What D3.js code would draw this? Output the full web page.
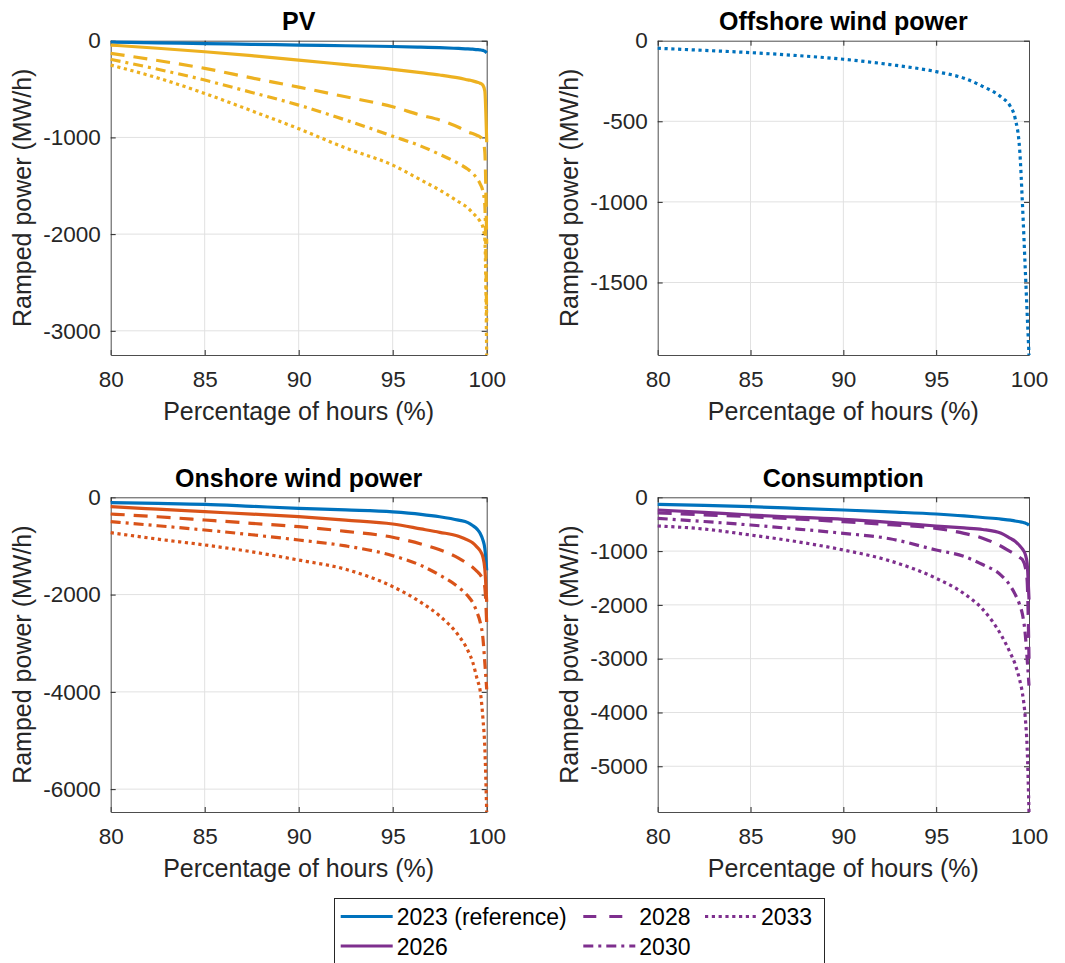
<!DOCTYPE html>
<html>
<head>
<meta charset="utf-8">
<script src="https://cdn.jsdelivr.net/npm/d3@7/dist/d3.min.js"></script>
<style>
body { margin: 0; background: #fff; }
svg text { font-family: "Liberation Sans", Arial, Helvetica, sans-serif; }
</style>
</head>
<body>
<div class="chart"></div>
<script>
// percentage of hours (x values shared by every curve)
var hours = [80, 82.5, 85, 87.5, 90, 92.5, 95, 96.5, 97.5, 98.5, 99, 99.25, 99.5, 99.65, 99.8, 99.9, 100];
var hourTicks = [80, 85, 90, 95, 100];

// PV
var pv2023 = [-15, -22, -30, -37, -45, -52, -60, -67, -72, -80, -84, -88, -92, -95, -100, -108, -125];
var pv2026 = [-45, -78, -114, -155, -200, -248, -296, -330, -355, -385, -405, -415, -430, -440, -460, -520, -1050];
var pv2028 = [-131, -205, -286, -385, -480, -580, -683, -770, -820, -895, -945, -960, -980, -995, -1030, -1150, -2100];
var pv2030 = [-193, -295, -407, -535, -666, -820, -987, -1090, -1175, -1270, -1330, -1370, -1430, -1480, -1560, -1700, -2900];
var pv2033 = [-252, -385, -545, -725, -910, -1110, -1287, -1440, -1545, -1665, -1730, -1780, -1830, -1870, -1930, -2050, -3250];
var pvTicks = [-3000, -2000, -1000, 0];

// offshore wind
var offshore2033 = [-47, -60, -74, -92, -115, -148, -192, -233, -283, -350, -409, -480, -680, -1020, -1420, -1690, -1950];
var offshoreTicks = [-1500, -1000, -500, 0];

// onshore wind
var onshore2023 = [-110, -125, -145, -185, -226, -260, -300, -350, -400, -470, -520, -580, -660, -740, -880, -1050, -1500];
var onshore2026 = [-193, -245, -296, -345, -399, -470, -549, -650, -720, -800, -880, -935, -1030, -1100, -1230, -1470, -2150];
var onshore2028 = [-343, -400, -467, -535, -604, -700, -822, -960, -1080, -1250, -1370, -1440, -1530, -1590, -1700, -1850, -2600];
var onshore2030 = [-501, -585, -672, -770, -878, -1000, -1200, -1400, -1600, -1850, -2030, -2160, -2380, -2560, -2900, -3400, -3950];
var onshore2033 = [-727, -860, -980, -1120, -1290, -1480, -1837, -2160, -2440, -2840, -3150, -3380, -3750, -3970, -4550, -5150, -6470];
var onshoreTicks = [-6000, -4000, -2000, 0];

// consumption
var cons2023 = [-130, -150, -175, -205, -236, -272, -310, -345, -375, -405, -425, -440, -455, -465, -480, -495, -520];
var cons2026 = [-236, -280, -329, -370, -409, -465, -533, -570, -598, -670, -765, -815, -900, -965, -1060, -1230, -1900];
var cons2028 = [-290, -325, -360, -405, -453, -510, -577, -670, -760, -910, -1010, -1060, -1120, -1160, -1300, -1550, -3000];
var cons2030 = [-391, -450, -515, -590, -669, -770, -979, -1100, -1250, -1450, -1650, -1800, -2000, -2180, -2550, -3000, -3500];
var cons2033 = [-533, -590, -701, -825, -979, -1180, -1506, -1790, -2080, -2560, -2900, -3100, -3400, -3650, -4100, -4650, -5850];
var consTicks = [-5000, -4000, -3000, -2000, -1000, 0];

var legendLabels = ["2023 (reference)", "2026", "2028", "2030", "2033"];
var legendYears = ["2023", "2026", "2028", "2030", "2033"];

var blue = "#0072BD", orange = "#D95319", yellow = "#EDB120", purple = "#7E2F8E";
var dashes = { "2023": null, "2026": null, "2028": "14,9", "2030": "10,5,3,5", "2033": "3.2,3.6" };
var legendDashes = { "2023": null, "2026": null, "2028": "13,13", "2030": "10,5,3,5", "2033": "3.2,3.6" };

var svgWidth = 1065;
var svgHeight = 963;

var svg = d3.select(".chart")
	.append("svg")
	.attr("width", svgWidth)
	.attr("height", svgHeight);

var panels = [
	{ title: "PV", ticks: pvTicks, x: 110.7, y: 40.7, w: 376, h: 314.3,
	  series: [
		{ year: "2023", color: blue, values: pv2023 },
		{ year: "2026", color: yellow, values: pv2026 },
		{ year: "2028", color: yellow, values: pv2028 },
		{ year: "2030", color: yellow, values: pv2030 },
		{ year: "2033", color: yellow, values: pv2033 }
	  ] },
	{ title: "Offshore wind power", ticks: offshoreTicks, x: 657.7, y: 40.7, w: 371.3, h: 314.3,
	  series: [
		{ year: "2033", color: blue, values: offshore2033 }
	  ] },
	{ title: "Onshore wind power", ticks: onshoreTicks, x: 110.7, y: 497.3, w: 376, h: 314.7,
	  series: [
		{ year: "2023", color: blue, values: onshore2023 },
		{ year: "2026", color: orange, values: onshore2026 },
		{ year: "2028", color: orange, values: onshore2028 },
		{ year: "2030", color: orange, values: onshore2030 },
		{ year: "2033", color: orange, values: onshore2033 }
	  ] },
	{ title: "Consumption", ticks: consTicks, x: 657.7, y: 497.3, w: 371.3, h: 314.7,
	  series: [
		{ year: "2023", color: blue, values: cons2023 },
		{ year: "2026", color: purple, values: cons2026 },
		{ year: "2028", color: purple, values: cons2028 },
		{ year: "2030", color: purple, values: cons2030 },
		{ year: "2033", color: purple, values: cons2033 }
	  ] }
];

var plainNumber = function(d){ return String(d); };

panels.forEach(function(p){
	var chart = svg.append("g")
		.attr("transform", `translate(${p.x}, ${p.y})`);

	var xScale = d3.scaleLinear().domain([80, 100]).range([0, p.w]);
	var yMin = d3.min(p.series, function(s){ return d3.min(s.values); });
	var yScale = d3.scaleLinear().domain([yMin, 0]).range([p.h, 0]);

	// grid
	chart.selectAll(".vgrid")
		.data(hourTicks.slice(1, -1))
		.enter().append("line")
			.attr("x1", function(d){ return xScale(d); })
			.attr("x2", function(d){ return xScale(d); })
			.attr("y1", 0)
			.attr("y2", p.h)
			.attr("stroke", "#e1e1e1")
			.attr("stroke-width", 1);
	chart.selectAll(".hgrid")
		.data(p.ticks.filter(function(d){ return d !== 0; }))
		.enter().append("line")
			.attr("x1", 0)
			.attr("x2", p.w)
			.attr("y1", function(d){ return yScale(d); })
			.attr("y2", function(d){ return yScale(d); })
			.attr("stroke", "#e1e1e1")
			.attr("stroke-width", 1);

	// axes, ticks pointing inside
	var bottom = chart.append("g")
		.attr("transform", `translate(0, ${p.h})`)
		.style("color", "#262626")
		.call(d3.axisBottom(xScale).tickValues(hourTicks).tickFormat(plainNumber).tickSizeInner(-5).tickSizeOuter(0).tickPadding(16));
	var left = chart.append("g")
		.style("color", "#262626")
		.call(d3.axisLeft(yScale).tickValues(p.ticks).tickFormat(plainNumber).tickSizeInner(-5).tickSizeOuter(0).tickPadding(10));
	chart.append("g")
		.style("color", "#262626")
		.call(d3.axisTop(xScale).tickValues(hourTicks).tickSizeInner(-5).tickSizeOuter(0).tickFormat(""));
	chart.append("g")
		.attr("transform", `translate(${p.w}, 0)`)
		.style("color", "#262626")
		.call(d3.axisRight(yScale).tickValues(p.ticks).tickSizeInner(-5).tickSizeOuter(0).tickFormat(""));

	chart.selectAll(".domain").attr("stroke", "#4d4d4d");
	chart.selectAll(".tick line").attr("stroke", "#262626");
	bottom.selectAll("text").style("font-size", "22.5px").attr("fill", "#262626");
	left.selectAll("text").style("font-size", "22.5px").attr("fill", "#262626");

	// curves
	var line = d3.line()
		.x(function(d, i){ return xScale(hours[i]); })
		.y(function(d){ return yScale(d); })
		.curve(d3.curveMonotoneX);

	chart.selectAll(".curve")
		.data(p.series)
		.enter().append("path")
			.attr("d", function(s){ return line(s.values); })
			.attr("fill", "none")
			.attr("stroke", function(s){ return s.color; })
			.attr("stroke-width", 3.2)
			.attr("stroke-dasharray", function(s){ return dashes[s.year]; });

	chart.append("text")
		.attr("x", p.w / 2)
		.attr("y", -10.5)
		.attr("text-anchor", "middle")
		.style("font-size", "25px")
		.style("font-weight", "bold")
		.text(p.title);

	chart.append("text")
		.attr("x", p.w / 2)
		.attr("y", p.h + 65)
		.attr("text-anchor", "middle")
		.attr("fill", "#262626")
		.style("font-size", "25px")
		.text("Percentage of hours (%)");

	chart.append("text")
		.attr("transform", "rotate(-90)")
		.attr("x", -p.h / 2)
		.attr("y", -80)
		.attr("text-anchor", "middle")
		.attr("fill", "#262626")
		.style("font-size", "25px")
		.text("Ramped power (MW/h)");
});

// legend (3 columns, filled column by column)
var legend = svg.append("g");
legend.append("rect")
	.attr("x", 334.5)
	.attr("y", 898.5)
	.attr("width", 490)
	.attr("height", 80)
	.attr("fill", "#fff")
	.attr("stroke", "#262626")
	.attr("stroke-width", 1);

var legendCols = [340.7, 583.3, 705];
var legendRows = [916.5, 946];

legendLabels.forEach(function(label, i){
	var cx = legendCols[Math.floor(i / 2)];
	var cy = legendRows[i % 2];
	var year = legendYears[i];
	legend.append("line")
		.attr("x1", cx)
		.attr("x2", cx + 52)
		.attr("y1", cy)
		.attr("y2", cy)
		.attr("stroke", year === "2023" ? blue : purple)
		.attr("stroke-width", 3.2)
		.attr("stroke-dasharray", legendDashes[year]);
	legend.append("text")
		.attr("x", cx + 56)
		.attr("y", cy + 8.5)
		.style("font-size", "23px")
		.text(label);
});
</script>
</body>
</html>
